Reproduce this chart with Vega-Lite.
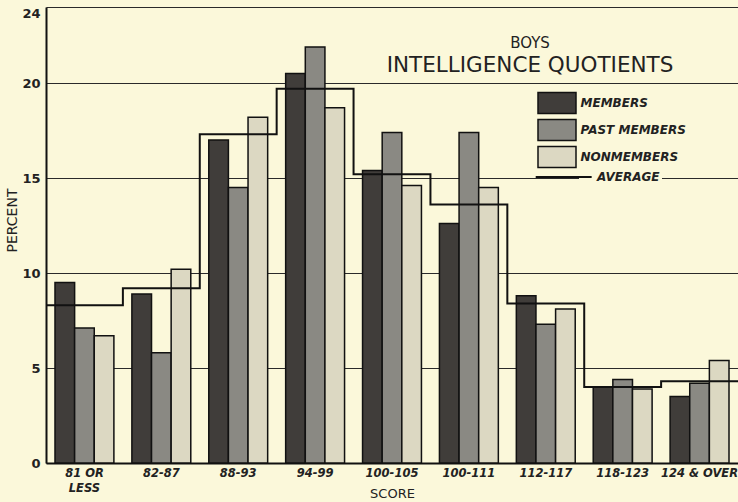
{
  "$schema": "https://vega.github.io/schema/vega-lite/v6.json",
  "width": 692,
  "height": 456,
  "autosize": "none",
  "padding": {"left": 46, "top": 7, "right": 0, "bottom": 39},
  "background": "#fbf8da",
  "config": {"view": {"stroke": null}, "font": "DejaVu Sans"},
  "title": {
    "text": "BOYS",
    "subtitle": "INTELLIGENCE QUOTIENTS",
    "anchor": "middle",
    "frame": "group",
    "dx": 138,
    "dy": 73,
    "fontSize": 15,
    "fontWeight": "normal",
    "color": "#222222",
    "subtitleFontSize": 21.5,
    "subtitleColor": "#222222",
    "subtitlePadding": 4
  },
  "layer": [
    {
      "data": {
        "values": [
          {"score": "81 OR LESS", "group": "MEMBERS", "percent": 9.5},
          {"score": "81 OR LESS", "group": "PAST MEMBERS", "percent": 7.1},
          {"score": "81 OR LESS", "group": "NONMEMBERS", "percent": 6.7},
          {"score": "82-87", "group": "MEMBERS", "percent": 8.9},
          {"score": "82-87", "group": "PAST MEMBERS", "percent": 5.8},
          {"score": "82-87", "group": "NONMEMBERS", "percent": 10.2},
          {"score": "88-93", "group": "MEMBERS", "percent": 17.0},
          {"score": "88-93", "group": "PAST MEMBERS", "percent": 14.5},
          {"score": "88-93", "group": "NONMEMBERS", "percent": 18.2},
          {"score": "94-99", "group": "MEMBERS", "percent": 20.5},
          {"score": "94-99", "group": "PAST MEMBERS", "percent": 21.9},
          {"score": "94-99", "group": "NONMEMBERS", "percent": 18.7},
          {"score": "100-105", "group": "MEMBERS", "percent": 15.4},
          {"score": "100-105", "group": "PAST MEMBERS", "percent": 17.4},
          {"score": "100-105", "group": "NONMEMBERS", "percent": 14.6},
          {"score": "100-111", "group": "MEMBERS", "percent": 12.6},
          {"score": "100-111", "group": "PAST MEMBERS", "percent": 17.4},
          {"score": "100-111", "group": "NONMEMBERS", "percent": 14.5},
          {"score": "112-117", "group": "MEMBERS", "percent": 8.8},
          {"score": "112-117", "group": "PAST MEMBERS", "percent": 7.3},
          {"score": "112-117", "group": "NONMEMBERS", "percent": 8.1},
          {"score": "118-123", "group": "MEMBERS", "percent": 4.0},
          {"score": "118-123", "group": "PAST MEMBERS", "percent": 4.4},
          {"score": "118-123", "group": "NONMEMBERS", "percent": 3.9},
          {"score": "124 & OVER", "group": "MEMBERS", "percent": 3.5},
          {"score": "124 & OVER", "group": "PAST MEMBERS", "percent": 4.2},
          {"score": "124 & OVER", "group": "NONMEMBERS", "percent": 5.4}
        ]
      },
      "mark": {"type": "bar", "stroke": "#111111", "strokeWidth": 1.5},
      "encoding": {
        "x": {
          "field": "score",
          "type": "nominal",
          "sort": ["81 OR LESS", "82-87", "88-93", "94-99", "100-105", "100-111", "112-117", "118-123", "124 & OVER"],
          "scale": {"paddingInner": 0.234, "paddingOuter": 0.117},
          "axis": {
            "title": "SCORE",
            "labelAngle": 0,
            "ticks": false,
            "grid": false,
            "domainColor": "#111111",
            "domainWidth": 2,
            "labelFontSize": 11.5,
            "labelFontStyle": "italic",
            "labelFontWeight": "bold",
            "labelColor": "#222222",
            "labelPadding": 4,
            "labelLineHeight": 15,
            "labelExpr": "datum.value == '81 OR LESS' ? ['81 OR', 'LESS'] : datum.value",
            "titleFontSize": 13,
            "titleFontWeight": "normal",
            "titleColor": "#222222",
            "titleY": 30,
            "titleBaseline": "middle"
          }
        },
        "xOffset": {
          "field": "group",
          "type": "nominal",
          "sort": ["MEMBERS", "PAST MEMBERS", "NONMEMBERS"],
          "scale": {"paddingInner": 0, "paddingOuter": 0}
        },
        "y": {
          "field": "percent",
          "type": "quantitative",
          "scale": {"domain": [0, 24], "nice": false},
          "axis": {
            "title": "PERCENT",
            "values": [0, 5, 10, 15, 20, 24],
            "grid": true,
            "gridColor": "#2a2a2a",
            "gridWidth": 1,
            "domainColor": "#111111",
            "domainWidth": 2,
            "ticks": false,
            "labelFontSize": 13,
            "labelFontWeight": "bold",
            "labelColor": "#222222",
            "labelPadding": 6,
            "labelBaseline": {"condition": {"test": "datum.value == 24", "value": "top"}, "value": "middle"},
            "titleFontSize": 14,
            "titleFontWeight": "normal",
            "titleColor": "#222222",
            "titleX": -27,
            "titleY": 213
          }
        },
        "fill": {
          "field": "group",
          "type": "nominal",
          "scale": {"domain": ["MEMBERS", "PAST MEMBERS", "NONMEMBERS"], "range": ["#403d3a", "#8a8983", "#dcd8c2"]},
          "legend": {
            "orient": "none",
            "legendX": 500.5,
            "legendY": 85.5,
            "title": null,
            "symbolType": "M-2,-1.1H2V1.1H-2Z",
            "symbolSize": 361,
            "symbolStrokeColor": "#111111",
            "symbolStrokeWidth": 1.5,
            "labelFontSize": 12,
            "labelFontStyle": "italic",
            "labelFontWeight": "bold",
            "labelColor": "#222222",
            "labelOffset": 13,
            "rowPadding": 0
          }
        }
      }
    },
    {
      "data": {
        "values": [
          {"pos": 0, "average": 8.3},
          {"pos": 1, "average": 9.2},
          {"pos": 2, "average": 17.3},
          {"pos": 3, "average": 19.7},
          {"pos": 4, "average": 15.2},
          {"pos": 5, "average": 13.6},
          {"pos": 6, "average": 8.4},
          {"pos": 7, "average": 4.0},
          {"pos": 8, "average": 4.3},
          {"pos": 9, "average": 4.3}
        ]
      },
      "mark": {"type": "line", "interpolate": "step-after", "strokeWidth": 2},
      "encoding": {
        "x": {"field": "pos", "type": "quantitative", "scale": {"domain": [0, 9], "nice": false, "zero": false}, "axis": null},
        "y": {"field": "average", "type": "quantitative", "title": "PERCENT"},
        "stroke": {
          "datum": "AVERAGE",
          "type": "nominal",
          "scale": {"range": ["#111111"]},
          "legend": {
            "orient": "none",
            "legendX": 533,
            "legendY": 162,
            "title": null,
            "symbolType": "M-11,0H1",
            "symbolSize": 87,
            "symbolStrokeWidth": 2,
            "labelFontSize": 12,
            "labelFontStyle": "italic",
            "labelFontWeight": "bold",
            "labelColor": "#222222",
            "labelOffset": 4,
            "fillColor": "#fbf8da",
            "padding": 2
          }
        }
      }
    }
  ],
  "resolve": {"scale": {"x": "independent"}}
}
